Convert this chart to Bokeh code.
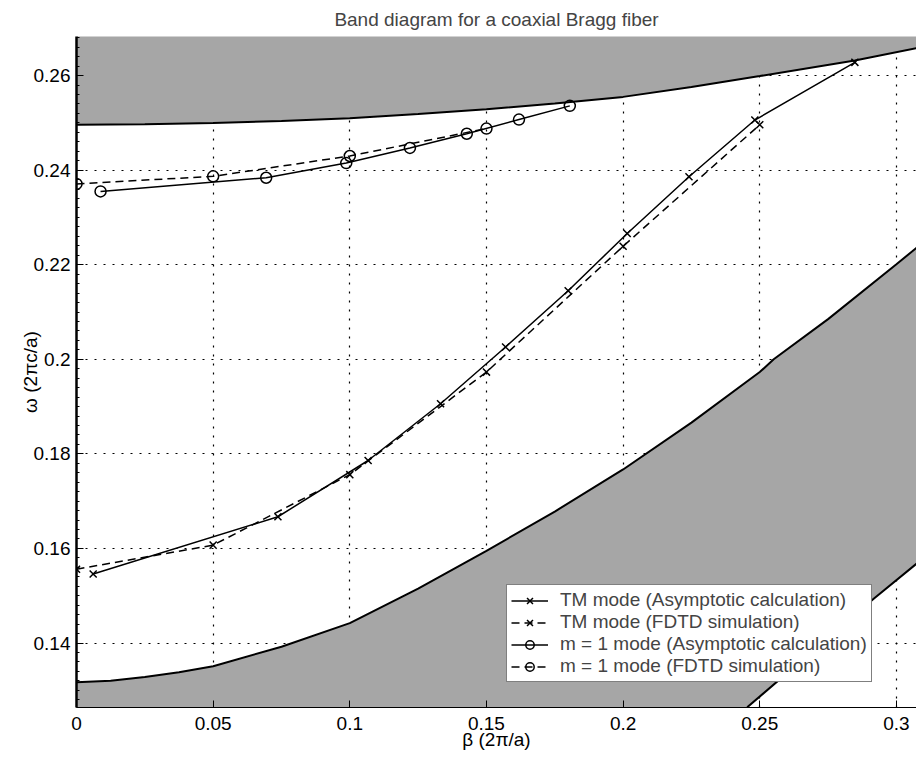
from bokeh.plotting import figure
from bokeh.models import Range1d, Legend, LegendItem, FixedTicker
from bokeh.embed import file_html
from bokeh.resources import INLINE

TITLE = "Band diagram for a coaxial Bragg fiber"
X_LABEL = "β (2π/a)"
Y_LABEL = "ω (2πc/a)"

x_ticks = [0, 0.05, 0.1, 0.15, 0.2, 0.25, 0.3]
x_tick_labels = ["0", "0.05", "0.1", "0.15", "0.2", "0.25", "0.3"]
y_ticks = [0.14, 0.16, 0.18, 0.2, 0.22, 0.24, 0.26]
y_tick_labels = ["0.14", "0.16", "0.18", "0.2", "0.22", "0.24", "0.26"]

# Band-gap edges
upper_edge_beta = [0, 0.025, 0.05, 0.075, 0.1, 0.125, 0.15, 0.175, 0.2, 0.225, 0.25, 0.2848, 0.3074]
upper_edge_omega = [0.2496, 0.2497, 0.2500, 0.2504, 0.2510, 0.2519, 0.2529, 0.2541, 0.2555, 0.2576, 0.2599, 0.2632, 0.2658]

lower_edge_beta = [0, 0.0125, 0.025, 0.0375, 0.05, 0.075, 0.1, 0.125, 0.15, 0.175, 0.2, 0.225, 0.25, 0.2551, 0.275, 0.3, 0.3074]
lower_edge_omega = [0.1317, 0.1320, 0.1328, 0.1338, 0.1351, 0.1392, 0.1442, 0.1515, 0.1595, 0.1678, 0.1767, 0.1866, 0.1973, 0.2000, 0.2085, 0.2201, 0.2236]

cut_edge_beta = [0.2454, 0.2918, 0.3074]
cut_edge_omega = [0.1264, 0.1494, 0.1568]

# Modes
tm_asym_beta = [0.0061, 0.0737, 0.1067, 0.1332, 0.157, 0.1799, 0.2015, 0.2241, 0.2482, 0.2848]
tm_asym_omega = [0.1546, 0.1667, 0.1786, 0.1906, 0.2026, 0.2145, 0.2266, 0.2386, 0.2506, 0.2628]

tm_fdtd_beta = [0, 0.05, 0.1, 0.15, 0.2, 0.25]
tm_fdtd_omega = [0.1556, 0.1607, 0.1756, 0.1973, 0.2239, 0.2496]

m1_asym_beta = [0.0088, 0.0694, 0.0987, 0.122, 0.1428, 0.1619, 0.1805]
m1_asym_omega = [0.2355, 0.2384, 0.2415, 0.2447, 0.2477, 0.2507, 0.2536]

m1_fdtd_beta = [0, 0.05, 0.1, 0.15]
m1_fdtd_omega = [0.2371, 0.2387, 0.2430, 0.2488]

legend_labels = [
    "TM mode (Asymptotic calculation)",
    "TM mode (FDTD simulation)",
    "m = 1 mode (Asymptotic calculation)",
    "m = 1 mode (FDTD simulation)",
]

X_MIN, X_MAX = 0.0, 0.30735
Y_MIN, Y_MAX = 0.12636, 0.26827

FONT = "Liberation Sans"
FS = "19px"
GRAY = "#a6a6a6"

p = figure(width=916, height=759, output_backend="svg", toolbar_location=None,
           x_range=Range1d(X_MIN, X_MAX), y_range=Range1d(Y_MIN, Y_MAX),
           min_border_left=76, min_border_right=0, min_border_top=36, min_border_bottom=52,
           title=TITLE)
p.outline_line_color = None
p.background_fill_color = "white"
p.border_fill_color = "white"

p.title.align = "center"
p.title.text_font = FONT
p.title.text_font_size = FS
p.title.text_font_style = "normal"
p.title.standoff = 13

# shaded regions
top_xs = upper_edge_beta + [X_MAX, X_MIN]
top_ys = upper_edge_omega + [Y_MAX + 0.01, Y_MAX + 0.01]
p.patch(top_xs, top_ys, fill_color=GRAY, line_color=None)
p.line(upper_edge_beta, upper_edge_omega, line_color="black", line_width=2)

bot_xs = lower_edge_beta + cut_edge_beta[::-1] + [X_MIN]
bot_ys = lower_edge_omega + cut_edge_omega[::-1] + [Y_MIN]
p.patch(bot_xs, bot_ys, fill_color=GRAY, line_color=None)
p.line(lower_edge_beta, lower_edge_omega, line_color="black", line_width=2)
p.line(cut_edge_beta, cut_edge_omega, line_color="black", line_width=2)

LW = 1.5
r1l = p.line(tm_asym_beta, tm_asym_omega, line_color="black", line_width=LW)
r1m = p.scatter(tm_asym_beta, tm_asym_omega, marker="x", size=10, line_color="black", line_width=LW)
r2l = p.line(tm_fdtd_beta, tm_fdtd_omega, line_color="black", line_width=LW, line_dash="8 5")
r2m = p.scatter(tm_fdtd_beta, tm_fdtd_omega, marker="x", size=10, line_color="black", line_width=LW)
r3l = p.line(m1_asym_beta, m1_asym_omega, line_color="black", line_width=LW)
r3m = p.scatter(m1_asym_beta, m1_asym_omega, marker="circle", size=11, line_color="black", fill_color=None, line_width=LW)
r4l = p.line(m1_fdtd_beta, m1_fdtd_omega, line_color="black", line_width=LW, line_dash="8 5")
r4m = p.scatter(m1_fdtd_beta, m1_fdtd_omega, marker="circle", size=11, line_color="black", fill_color=None, line_width=LW)

legend = Legend(items=[
    LegendItem(label=legend_labels[0], renderers=[r1l, r1m]),
    LegendItem(label=legend_labels[1], renderers=[r2l, r2m]),
    LegendItem(label=legend_labels[2], renderers=[r3l, r3m]),
    LegendItem(label=legend_labels[3], renderers=[r4l, r4m]),
], location=(430, 25))
legend.margin = 0
legend.padding = 4
legend.spacing = 0
legend.glyph_width = 37
legend.glyph_height = 21
legend.label_height = 21
legend.label_standoff = 12
legend.border_line_color = "black"
legend.border_line_width = 1
legend.background_fill_color = "white"
legend.background_fill_alpha = 1
legend.label_text_font = FONT
legend.label_text_font_size = FS
p.add_layout(legend)

# axes
p.xaxis.ticker = FixedTicker(ticks=x_ticks)
p.yaxis.ticker = FixedTicker(ticks=y_ticks, minor_ticks=[round(0.126 + 0.002 * i, 3) for i in range(72)])
p.xaxis.major_label_overrides = {t: l for t, l in zip(x_ticks, x_tick_labels)}
p.yaxis.major_label_overrides = {t: l for t, l in zip(y_ticks, y_tick_labels)}
for ax in (p.xaxis, p.yaxis):
    ax.axis_line_color = "black"
    ax.major_tick_line_color = "black"
    ax.major_tick_in = 7
    ax.major_tick_out = 0
    ax.minor_tick_in = 0
    ax.minor_tick_out = 0
    ax.major_label_text_font = FONT
    ax.major_label_text_font_size = FS
    ax.major_label_text_color = "black"
    ax.axis_label_text_font = FONT
    ax.axis_label_text_font_size = FS
    ax.axis_label_text_font_style = "normal"
    ax.axis_label_text_color = "black"
    ax.major_label_standoff = 6
p.xaxis.major_label_standoff = 9
p.yaxis.minor_tick_in = 3
p.yaxis.minor_tick_line_color = "black"
p.yaxis.axis_line_width = 2.5
p.xaxis.axis_line_width = 1
p.xaxis.axis_label = X_LABEL
p.yaxis.axis_label = Y_LABEL
p.xaxis.axis_label_standoff = -4
p.yaxis.axis_label_standoff = -10

p.grid.grid_line_color = "black"
p.grid.grid_line_dash = "2 7"
p.grid.grid_line_width = 1.2
p.grid.grid_line_alpha = 1

open("out.html", "w").write(file_html(p, INLINE))
